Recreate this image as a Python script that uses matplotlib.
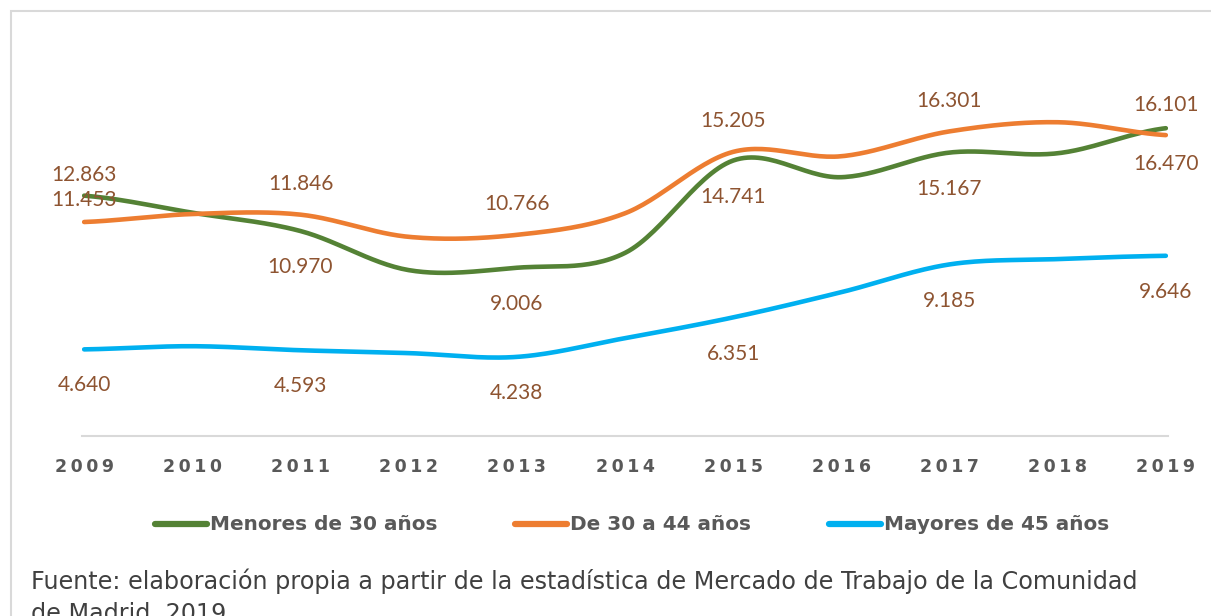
import matplotlib.pyplot as plt
import matplotlib.patches as patches
import numpy as np

years = [2009, 2010, 2011, 2012, 2013, 2014, 2015, 2016, 2017, 2018, 2019]
menores_30 = [12.863, 11.95, 10.970, 8.88, 9.006, 9.80, 14.741, 13.85, 15.167, 15.13, 16.470]
de_30_44 = [11.453, 11.88, 11.846, 10.66, 10.766, 11.92, 15.205, 14.97, 16.301, 16.79, 16.101]
mayores_45 = [4.640, 4.81, 4.593, 4.44, 4.238, 5.24, 6.351, 7.70, 9.185, 9.47, 9.646]
series_names = ['Menores de 30 años', 'De 30 a 44 años', 'Mayores de 45 años']
colors = ['#548235', '#ED7D31', '#00B0F0']
label_color = '#8E5431'


def smooth(x, y, n=30):
    # catmull-rom, roughly what excel does for "smoothed line"
    x = np.asarray(x, float)
    y = np.asarray(y, float)
    px = np.concatenate([[2 * x[0] - x[1]], x, [2 * x[-1] - x[-2]]])
    py = np.concatenate([[y[0]], y, [y[-1]]])
    xs, ys = [], []
    for i in range(1, len(px) - 2):
        t = np.linspace(0, 1, n, endpoint=False)
        for p, out in ((px, xs), (py, ys)):
            p0, p1, p2, p3 = p[i - 1], p[i], p[i + 1], p[i + 2]
            out.extend(0.5 * (2 * p1 + (-p0 + p2) * t +
                              (2 * p0 - 5 * p1 + 4 * p2 - p3) * t ** 2 +
                              (-p0 + 3 * p1 - 3 * p2 + p3) * t ** 3))
    xs.append(x[-1])
    ys.append(y[-1])
    return xs, ys


fig = plt.figure(figsize=(12.11, 6.16), dpi=100)
ax = fig.add_axes([0.0677, 0.292, 0.8968, 0.607])

# light frame around the chart (its bottom/right run off the image)
fig.patches.append(patches.Rectangle((11 / 1211, -0.1), 1.2, 1 - 11 / 616 + 0.1,
                                     transform=fig.transFigure, fill=False,
                                     edgecolor='#D9D9D9', linewidth=1.5))

all_series = [menores_30, de_30_44, mayores_45]
for vals, name, c in zip(all_series, series_names, colors):
    sx, sy = smooth(years, vals)
    ax.plot(sx, sy, color=c, linewidth=3.3, label=name, solid_capstyle='round')

# data labels on odd years: orange above, green and blue below
for i, yr in enumerate(years):
    if yr % 2 == 0:
        continue
    offs = [-26, 22, -26] if i > 0 else [15, 16, -26]
    for vals, off in zip(all_series, offs):
        ax.annotate(f'{vals[i]:.3f}', (yr, vals[i]), xytext=(0, off),
                    textcoords='offset points', ha='center', va='center',
                    fontsize=15, family='Lato', color=label_color)

ax.set_xlim(2009 - 0.02, 2019 + 0.02)
ax.set_ylim(0, 20)
ax.set_yticks([])
ax.set_xticks(years)
ax.set_xticklabels(['\u2009'.join(str(y)) for y in years], fontsize=12.5,
                   fontweight='bold', color='#595959')
ax.tick_params(axis='x', length=0, pad=16)
for s in ['top', 'right', 'left']:
    ax.spines[s].set_visible(False)
ax.spines['bottom'].set_color('#D9D9D9')
ax.spines['bottom'].set_linewidth(1.5)

leg = fig.legend(loc='center', bbox_to_anchor=(0.522, 1 - 525 / 616), ncol=3,
                 frameon=False, handlelength=2.6, handletextpad=0.15,
                 columnspacing=3.9, prop={'weight': 'bold', 'size': 14.4})
for t in leg.get_texts():
    t.set_color('#595959')
for h in leg.legend_handles:
    h.set_linewidth(4.5)

fig.text(31 / 1211, 1 - 589 / 616,
         'Fuente: elaboración propia a partir de la estadística de Mercado de Trabajo de la Comunidad',
         fontsize=17.2, color='#404040', va='baseline', ha='left')
fig.text(31 / 1211, 1 - 621 / 616, 'de Madrid, 2019.',
         fontsize=17.2, color='#404040', va='baseline', ha='left')

fig.savefig('out.png', dpi=100)
